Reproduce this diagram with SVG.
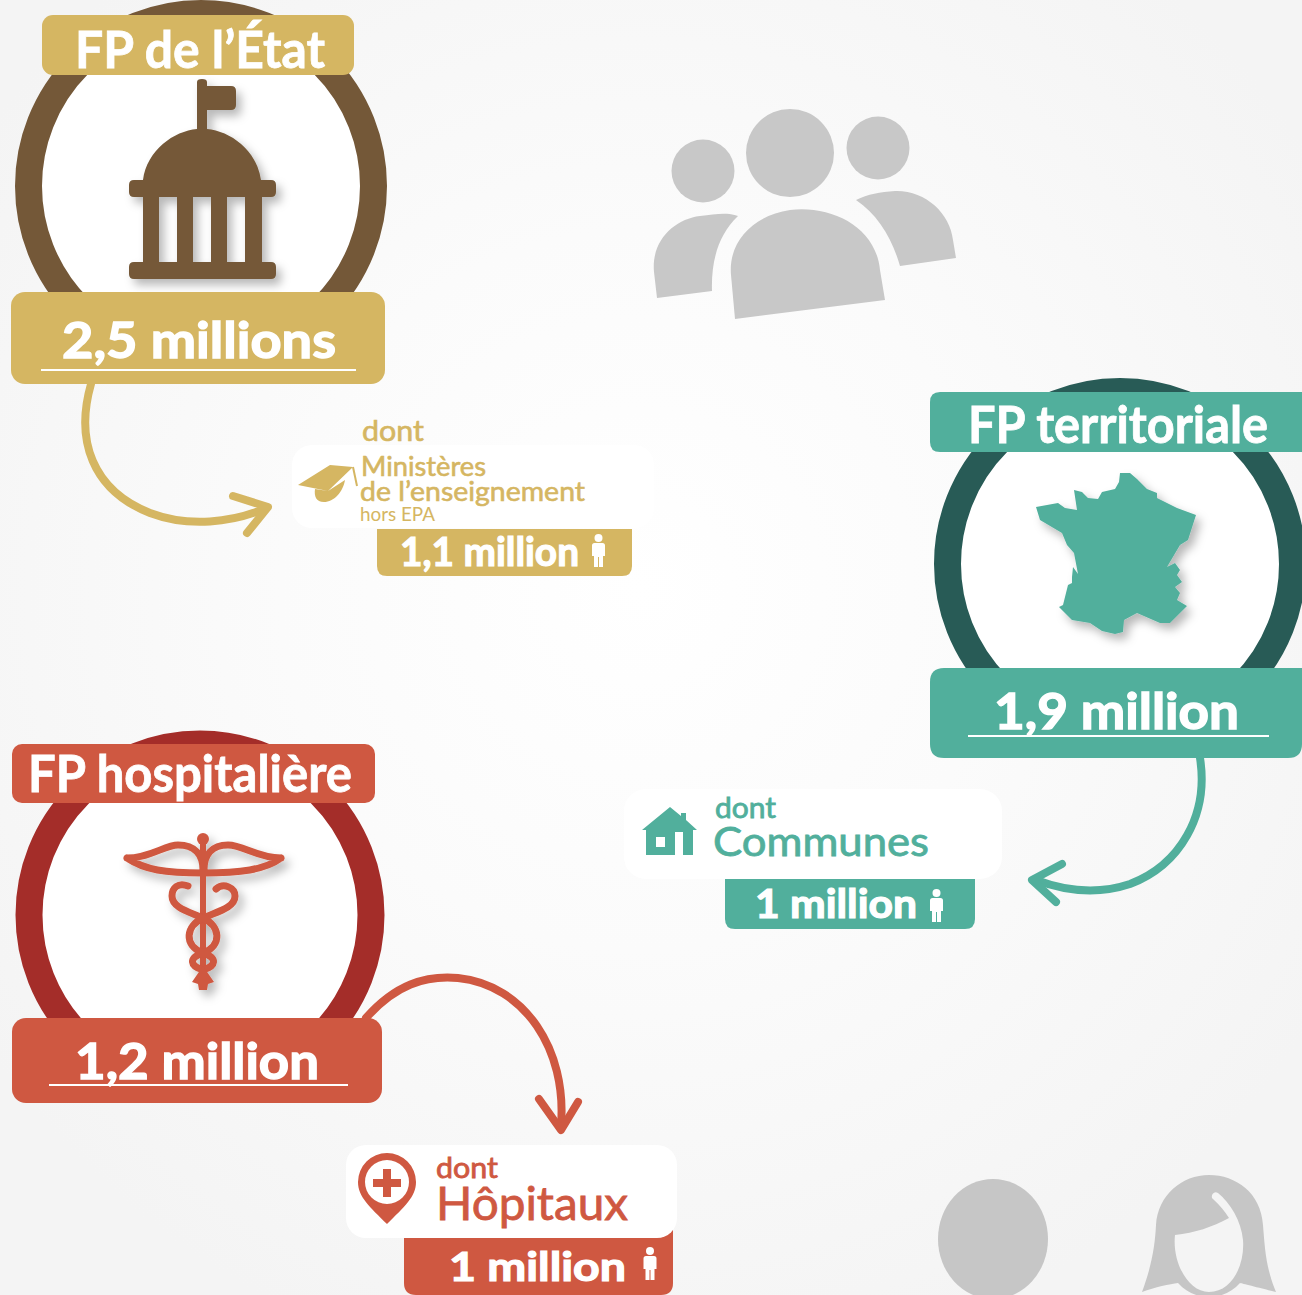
<svg xmlns="http://www.w3.org/2000/svg" width="1302" height="1295" viewBox="0 0 1302 1295">
<style>
text{font-family:Lato,"Liberation Sans",sans-serif;font-weight:700}
.w{fill:#fff}
.sw{stroke:#fff;stroke-width:.8px}
.so{stroke:#d5b662;stroke-width:.6px;font-weight:400}
.sg{stroke:#51af9c;stroke-width:.8px;font-weight:400}
.sr{stroke:#cf5841;stroke-width:.8px;font-weight:400}
.t1{font-size:52px}
.t2{font-size:50px;stroke-width:1.400px}
.t3{font-size:40px;stroke-width:1.200px}
.conn{fill:none;stroke-width:8;stroke-linecap:round;stroke-linejoin:round}
.o{fill:#d5b662}.g{fill:#51af9c}.r{fill:#cf5841}
.cw{fill:#fff;stroke-width:27}
</style>
<defs>
<radialGradient id="bg" gradientUnits="userSpaceOnUse" cx="640" cy="590" r="800">
<stop offset="0" stop-color="#fff"/><stop offset=".45" stop-color="#fbfbfb"/><stop offset="1" stop-color="#f4f4f4"/>
</radialGradient>
<filter id="sh" x="-30%" y="-30%" width="170%" height="170%"><feDropShadow dx="5" dy="6" stdDeviation="5" flood-color="#000" flood-opacity=".28"/></filter>
<g id="man"><circle cx="0" cy="-12" r="4"/><path d="M-4 -7H4Q6.500 -7 6.500 -4.500V6H4.500V17H.5V7H-.5V17H-4.500V6H-6.500V-4.500Q-6.500 -7 -4 -7Z"/></g>
</defs>
<rect width="1302" height="1295" fill="url(#bg)"/>

<g id="people" fill="#c8c8c8">
<circle cx="703" cy="171" r="31.500"/><circle cx="790" cy="153" r="44"/><circle cx="878" cy="148" r="31.500"/>
<path d="M657 298L654 272C651 240 675 219 700 216C716 214 727 212 738 216C718 235 711 262 712 291Z"/>
<path d="M735 319L731 275C728 240 755 215 790 210C830 205 876 226 880 270L885 300Z"/>
<path d="M856 200C868 194 880 192 895 191C925 190 950 213 953 240L956 258L900 266C892 238 878 215 856 200Z"/>
</g>
<g id="woman-man" fill="#c6c6c6">
<ellipse cx="993" cy="1239" rx="55" ry="60"/>
<path fill-rule="evenodd" d="M1142 1292C1152 1265 1155 1245 1156 1225C1158 1195 1182 1175 1209 1175C1236 1175 1261 1193 1263 1225C1265 1250 1266 1268 1276 1292C1256 1287 1240 1283 1240 1283C1232 1292 1221 1297 1209 1297C1197 1297 1186 1292 1178 1283C1170 1284 1155 1287 1142 1292ZM1175 1235C1172 1262 1188 1292 1209 1292C1232 1292 1245 1265 1243 1240C1241 1220 1230 1203 1218 1193C1213 1190 1210 1197 1213 1199C1220 1205 1225 1212 1229 1218C1212 1227 1195 1233 1175 1235Z"/>
</g>

<g id="connectors">
<path class="conn" stroke="#d5b662" d="M91 384C75 440 92 490 150 513C190 528 232 522 264 509"/>
<path class="conn" stroke="#d5b662" d="M233 496L268 507L247 533"/>
<path class="conn" stroke="#51af9c" d="M1200 758C1209 815 1180 865 1130 884C1100 894 1068 892 1036 880"/>
<path class="conn" stroke="#51af9c" d="M1062 864L1032 880L1056 902"/>
<path class="conn" stroke="#cf5841" d="M366 1018C395 985 425 975 458 978C525 985 567 1050 561 1125"/>
<path class="conn" stroke="#cf5841" d="M539 1099L561 1130L578 1102"/>
</g>

<g id="fp-etat">
<circle class="cw" stroke="#745838" cx="201" cy="186" r="172.500"/>
<path fill="#745838" fill-rule="evenodd" filter="url(#sh)" d="M197 129V82Q197 79 202 79Q207 79 207 82V86H231Q236 86 236 91V105Q236 110 231 110H207V129C230 131 257 150 261 180H271Q276 180 276 185V192Q276 197 271 197H262V262H271Q276 262 276 267V274Q276 279 271 279H134Q129 279 129 274V267Q129 262 134 262H143V197H134Q129 197 129 192V185Q129 180 134 180H143C147 150 174 131 197 129ZM159 197V262H177V197ZM193 197V262H211V197ZM227 197V262H245V197Z"/>
<rect class="o" x="42" y="15" width="312" height="60" rx="11"/>
<text class="w sw t1" x="75" y="68" textLength="250" lengthAdjust="spacingAndGlyphs">FP de l’État</text>
<rect class="o" x="11" y="292" width="374" height="92" rx="14"/>
<text class="w sw t2" x="62" y="358" textLength="274" lengthAdjust="spacingAndGlyphs">2,5 millions</text>
<rect class="w" x="41" y="369" width="315" height="2"/>
</g>

<g id="ministeres">
<rect class="w" x="292" y="445" width="362" height="83" rx="20"/>
<text class="o so" x="362" y="441" font-size="28" textLength="62" lengthAdjust="spacingAndGlyphs">dont</text>
<text class="o so" x="361" y="476" font-size="27" textLength="125" lengthAdjust="spacingAndGlyphs">Ministères</text>
<text class="o so" x="360" y="501" font-size="27" textLength="225" lengthAdjust="spacingAndGlyphs">de l’enseignement</text>
<text class="o" x="360" y="521" font-size="20" textLength="75" lengthAdjust="spacingAndGlyphs" style="font-weight:400">hors EPA</text>
<path class="o" d="M298 485L330 465L353 467L328 491L315 489C314 496 316 502 324 502C334 502 343 492 345 480L328 491Z"/>
<path fill="none" stroke="#d5b662" stroke-width="2" d="M353 467L357 486"/>
<path class="o" d="M377 529H632V566Q632 576 622 576H387Q377 576 377 566Z"/>
<text class="w sw t3" x="400" y="566" textLength="179" lengthAdjust="spacingAndGlyphs">1,1 million</text>
<use href="#man" x="598.500" y="550" fill="#fff"/>
</g>

<g id="fp-territoriale">
<circle class="cw" stroke="#285b56" cx="1120" cy="564" r="172.500"/>
<path class="g" filter="url(#sh)" d="M1120 473L1130 473L1137 479L1147 489L1157 493L1157 498L1177 508L1196 515L1188 540L1180 545L1167 567L1175 563L1180 570L1177 575L1182 582L1175 587L1180 593L1177 600L1187 606L1170 623L1160 623L1137 613L1124 620L1123 632L1115 634L1102 631L1090 623L1072 620L1059 607L1063 605L1068 585L1072 583L1072 577L1073 567L1078 574L1074 553L1067 545L1062 533L1040 520L1036 507L1058 503L1065 508L1077 510L1074 490L1082 492L1088 498L1098 499L1102 492L1115 489L1119 482Z"/>
<path class="g" d="M930 402Q930 392 940 392H1302V452H940Q930 452 930 442Z"/>
<text class="w sw t1" x="968" y="443" textLength="300" lengthAdjust="spacingAndGlyphs">FP territoriale</text>
<path class="g" d="M930 682Q930 668 944 668H1302V744Q1302 758 1288 758H944Q930 758 930 744Z"/>
<text class="w sw t2" x="994" y="729" textLength="245" lengthAdjust="spacingAndGlyphs">1,9 million</text>
<rect class="w" x="968" y="735" width="301" height="2"/>
</g>

<g id="communes">
<rect class="w" x="624" y="789" width="378" height="90" rx="22"/>
<path class="g" d="M642 830L670 807L681 816V813H686V820L697 830H693V855H683V832H675V855H646V830Z M656 837V847H665V837Z" fill-rule="evenodd"/>
<text class="g sg" x="715" y="818" font-size="28" textLength="61" lengthAdjust="spacingAndGlyphs">dont</text>
<text class="g sg" x="713" y="856" font-size="40" textLength="216" lengthAdjust="spacingAndGlyphs">Communes</text>
<path class="g" d="M725 879H975V919Q975 929 965 929H735Q725 929 725 919Z"/>
<text class="w sw t3" x="755" y="918" textLength="162" lengthAdjust="spacingAndGlyphs">1 million</text>
<use href="#man" x="936.500" y="905" fill="#fff"/>
</g>

<g id="fp-hospitaliere">
<circle class="cw" stroke="#a42d29" cx="200" cy="915" r="171"/>
<g filter="url(#sh)" fill="none" stroke="#cf5841" stroke-width="7" stroke-linecap="round" stroke-linejoin="round">
<circle cx="203" cy="839" r="6" fill="#cf5841" stroke="none"/>
<path d="M127 858C150 858 165 845 178 845C195 845 203 855 203 870M281 858C258 858 243 845 228 845C212 845 204 855 204 870M127 858C145 870 165 873 203 873C240 873 265 870 281 858"/>
<path stroke-width="6" d="M203 840V985"/>
<path d="M188 886C178 882 172 888 172 896C172 908 190 912 203 918C216 912 235 908 235 896C235 888 224 882 216 889"/>
<path d="M203 918C186 926 183 945 203 953C223 945 220 926 203 918M203 953C188 958 190 966 203 970C216 966 218 958 203 953"/>
<path fill="#cf5841" stroke="none" d="M203 966L214 982L208 984L207 990H199L198 984L192 982Z"/>
</g>
<rect class="r" x="12" y="744" width="363" height="59" rx="10"/>
<text class="w sw t1" x="28" y="792" textLength="324" lengthAdjust="spacingAndGlyphs">FP hospitalière</text>
<rect class="r" x="12" y="1018" width="370" height="85" rx="14"/>
<text class="w sw t2" x="75" y="1079" textLength="244" lengthAdjust="spacingAndGlyphs">1,2 million</text>
<rect class="w" x="49" y="1084" width="299" height="2"/>
</g>

<g id="hopitaux">
<path class="r" d="M404 1230H673V1283Q673 1295 661 1295H416Q404 1295 404 1283Z"/>
<rect class="w" x="346" y="1145" width="331" height="93" rx="20"/>
<path class="r" fill-rule="evenodd" d="M387 1224C370 1207 358 1197 358 1182A29 29 0 0 1 416 1182C416 1197 404 1207 387 1224ZM387 1160A22 22 0 1 0 387.010 1204A22 22 0 1 0 387 1160Z"/>
<path class="r" d="M383 1169H391V1179H401V1187H391V1197H383V1187H373V1179H383Z"/>
<text class="r sr" x="436" y="1178" font-size="28" textLength="62" lengthAdjust="spacingAndGlyphs">dont</text>
<text class="r sr" x="436" y="1220" font-size="47" textLength="192" lengthAdjust="spacingAndGlyphs">Hôpitaux</text>
<text class="w sw t3" x="449" y="1281" textLength="177" lengthAdjust="spacingAndGlyphs">1 million</text>
<use href="#man" x="650" y="1263" fill="#fff"/>
</g>
</svg>
